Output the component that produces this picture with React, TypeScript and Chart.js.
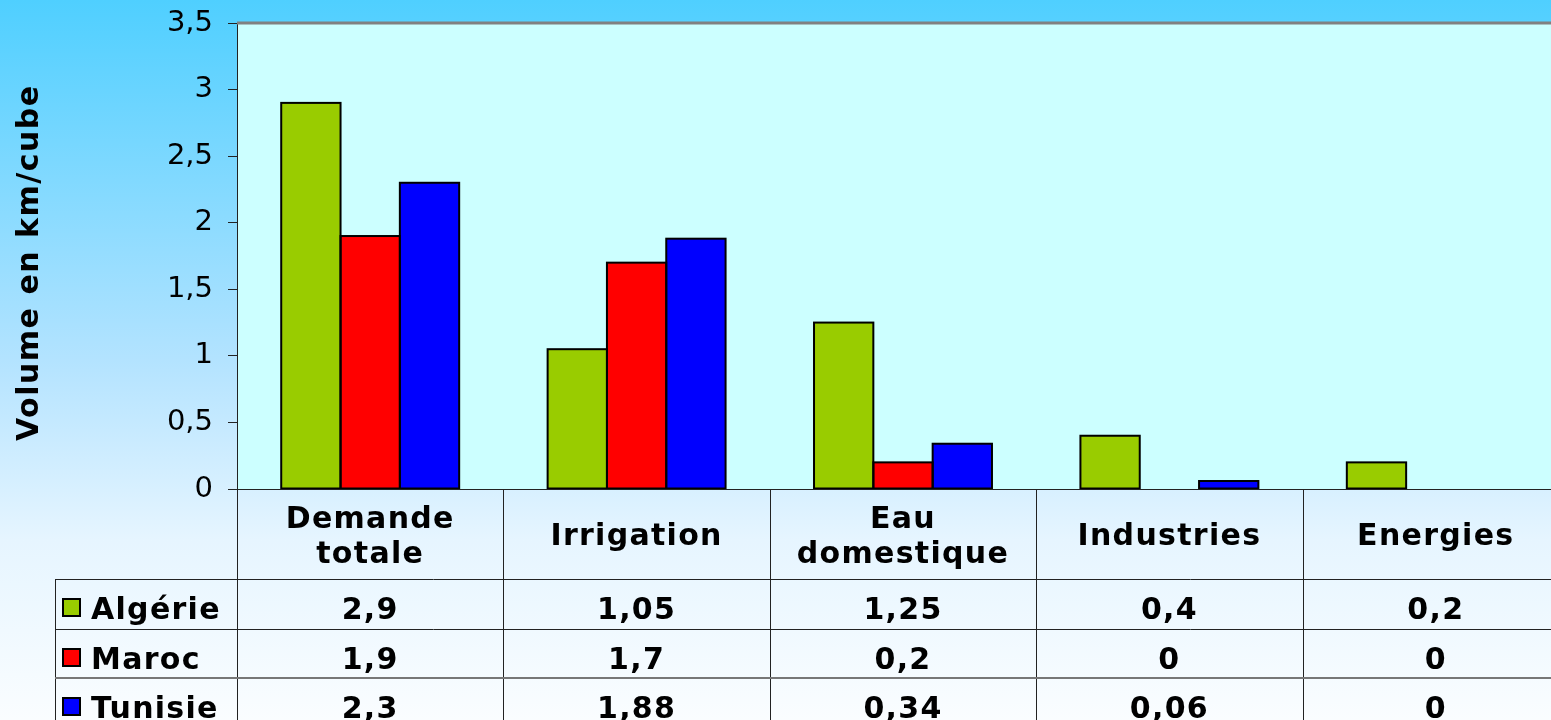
import React, { useEffect, useRef } from "react";
import { Chart, registerables } from "chart.js";

Chart.register(...registerables);

// ---- data ----
const categories: string[][] = [
  ["Demande", "totale"],
  ["Irrigation"],
  ["Eau", "domestique"],
  ["Industries"],
  ["Energies"],
];
const seriesNames = ["Algérie", "Maroc", "Tunisie"];
const algerie = [2.9, 1.05, 1.25, 0.4, 0.2];
const maroc = [1.9, 1.7, 0.2, 0, 0];
const tunisie = [2.3, 1.88, 0.34, 0.06, 0];
const seriesColors = ["#99CC00", "#FF0000", "#0000FF"];
const yTitle = "Volume en km/cube";
const yMax = 3.5;
const yStep = 0.5;

const FONT = '"DejaVu Sans", Verdana, sans-serif';
const fmt = (v: number) => String(v).replace(".", ",");

const allSeries = [algerie, maroc, tunisie];

const decorPlugin = {
  id: "decor",
  beforeDraw(chart: any) {
    const { ctx, chartArea } = chart;
    const { left, right, top, bottom } = chartArea;
    ctx.save();
    ctx.fillStyle = "#CCFFFF";
    ctx.fillRect(left, top, right - left, bottom - top);
    ctx.restore();
  },
  afterDatasetsDraw(chart: any) {
    const { ctx } = chart;
    ctx.save();
    ctx.strokeStyle = "#000000";
    ctx.lineWidth = 2;
    chart.data.datasets.forEach((ds: any, di: number) => {
      const meta = chart.getDatasetMeta(di);
      meta.data.forEach((bar: any, i: number) => {
        if (!ds.data[i]) return;
        const p = bar.getProps(["x", "y", "base", "width"], true);
        ctx.strokeRect(p.x - p.width / 2, p.y, p.width, p.base - p.y);
      });
    });
    ctx.restore();
  },
  afterDraw(chart: any) {
    const { ctx, chartArea, height } = chart;
    const { left, right, top, bottom } = chartArea;
    const n = categories.length;
    const cw = (right - left) / n;
    const xs = chart.scales.x;

    ctx.save();
    // top border of plot area
    ctx.strokeStyle = "#808080";
    ctx.lineWidth = 3;
    ctx.beginPath();
    ctx.moveTo(left, top);
    ctx.lineTo(right, top);
    ctx.stroke();

    // axis line at the bottom
    ctx.strokeStyle = "#222222";
    ctx.lineWidth = 1;
    ctx.beginPath();
    ctx.moveTo(left, Math.round(bottom) + 0.5);
    ctx.lineTo(right, Math.round(bottom) + 0.5);
    ctx.stroke();

    // table geometry
    const legendLeft = 55;
    const rowTops = [579, 629, 678];

    // vertical lines
    for (let i = 0; i <= n; i++) {
      const x = Math.round(left + i * cw) + 0.5;
      ctx.beginPath();
      ctx.moveTo(x, bottom);
      ctx.lineTo(x, height);
      ctx.stroke();
    }
    ctx.beginPath();
    ctx.moveTo(legendLeft + 0.5, rowTops[0]);
    ctx.lineTo(legendLeft + 0.5, height);
    ctx.stroke();

    // horizontal row lines
    rowTops.forEach((y, r) => {
      ctx.strokeStyle = r === 2 ? "#777777" : "#222222";
      ctx.lineWidth = r === 2 ? 2 : 1;
      ctx.beginPath();
      ctx.moveTo(legendLeft, r === 2 ? y : y + 0.5);
      ctx.lineTo(right, r === 2 ? y : y + 0.5);
      ctx.stroke();
    });

    // header labels
    ctx.fillStyle = "#000000";
    ctx.font = `bold 30px ${FONT}`;
    (ctx as any).letterSpacing = "1.3px";
    ctx.textAlign = "center";
    ctx.textBaseline = "alphabetic";
    const headCenter = (bottom + rowTops[0]) / 2;
    categories.forEach((lines, i) => {
      const cx = xs.getPixelForValue(i);
      lines.forEach((line, li) => {
        const y = headCenter + 11 + (li - (lines.length - 1) / 2) * 35;
        ctx.fillText(line, cx, y);
      });
    });

    // rows
    allSeries.forEach((vals, r) => {
      const base = rowTops[r] + 40;
      ctx.textAlign = "left";
      ctx.fillStyle = seriesColors[r];
      ctx.fillRect(63, base - 20, 17, 17);
      ctx.strokeStyle = "#000000";
      ctx.lineWidth = 2;
      ctx.strokeRect(63, base - 20, 17, 17);
      ctx.fillStyle = "#000000";
      ctx.fillText(seriesNames[r], 91, base);
      ctx.textAlign = "center";
      vals.forEach((v, i) => {
        ctx.fillText(fmt(v), xs.getPixelForValue(i), base);
      });
    });

    // y axis title
    ctx.save();
    ctx.translate(38, 441);
    ctx.rotate(-Math.PI / 2);
    ctx.font = `bold 30px ${FONT}`;
    (ctx as any).letterSpacing = "1.5px";
    ctx.textAlign = "left";
    ctx.textBaseline = "alphabetic";
    ctx.fillText(yTitle, 0, 0);
    ctx.restore();

    ctx.restore();
  },
};

export default function App() {
  const canvasRef = useRef<HTMLCanvasElement | null>(null);

  useEffect(() => {
    const canvas = canvasRef.current;
    if (!canvas) return;
    Chart.defaults.font.family = FONT;
    const chart = new Chart(canvas, {
      type: "bar",
      data: {
        labels: categories.map((c) => c.join(" ")),
        datasets: allSeries.map((vals, r) => ({
          label: seriesNames[r],
          data: vals,
          backgroundColor: seriesColors[r],
          borderWidth: 0,
          barPercentage: 1,
          categoryPercentage: 0.668,
        })),
      },
      options: {
        animation: false,
        responsive: false,
        devicePixelRatio: 1,
        layout: { padding: { top: 23, bottom: 231, left: 0, right: 0 } },
        plugins: {
          legend: { display: false },
          tooltip: { enabled: false },
          title: { display: false },
        },
        scales: {
          x: { display: false },
          y: {
            min: 0,
            max: yMax,
            afterFit: (scale: any) => {
              scale.width = 237;
              scale.paddingTop = 0;
              scale.paddingBottom = 0;
            },
            ticks: {
              stepSize: yStep,
              color: "#000000",
              padding: 15,
              font: { size: 29, family: FONT },
              callback: (v: any) => fmt(Number(v)),
            },
            grid: {
              drawOnChartArea: false,
              drawTicks: true,
              tickLength: 9,
              color: "#222222",
            },
            border: { display: true, color: "#222222", width: 1 },
          },
        },
      },
      plugins: [decorPlugin],
    });
    return () => chart.destroy();
  }, []);

  return (
    <div
      style={{
        position: "fixed",
        left: 0,
        top: 0,
        width: 1551,
        height: 720,
        overflow: "hidden",
        background:
          "linear-gradient(to bottom, #4FCFFF 0%, #B3E3FF 50%, #E6F5FF 75%, #FAFDFF 100%)",
      }}
    >
      <canvas
        ref={canvasRef}
        width={1569}
        height={720}
        style={{ position: "absolute", left: 0, top: 0, width: 1569, height: 720 }}
      />
    </div>
  );
}
